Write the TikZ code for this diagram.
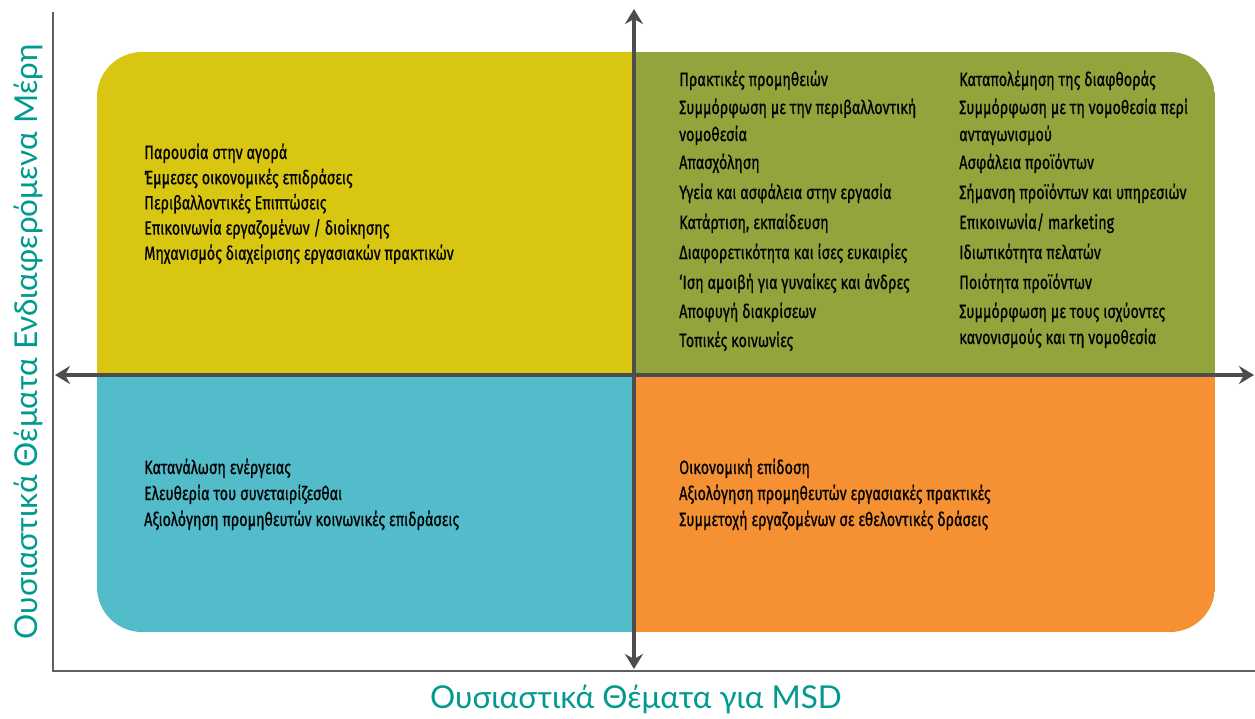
\documentclass[tikz,border=0pt]{standalone}
\usepackage{fontspec}
\usetikzlibrary{arrows.meta}
\newfontfamily\itemfont[FakeStretch=0.75,FakeBold=0.6]{Fira Sans}
\newfontfamily\labelfont{Lato}
\definecolor{qyellow}{RGB}{217,198,17}
\definecolor{qolive}{RGB}{147,164,61}
\definecolor{qteal}{RGB}{82,188,202}
\definecolor{qorange}{RGB}{245,145,50}
\definecolor{axisgray}{RGB}{77,77,79}
\definecolor{labelteal}{RGB}{0,154,143}
\tikzset{
 item/.style={anchor=base west,inner sep=0pt,font=\itemfont\fontsize{19.2}{21}\selectfont},
 axis/.style={line width=4pt,draw=axisgray,{Stealth[length=15pt,width=18pt,inset=5pt]}-{Stealth[length=15pt,width=18pt,inset=5pt]}},
 frame/.style={line width=2pt,draw=axisgray!90},
 axlabel/.style={text=labelteal,font=\labelfont\fontsize{31.5}{34}\selectfont}
}
\begin{document}
\begin{tikzpicture}[x=1pt,y=-1pt]
 \useasboundingbox (0,0) rectangle (1255,718);
 \begin{scope}
  \clip[rounded corners=45pt] (97,52) rectangle (1215,632);
  \fill[qyellow] (97,52) rectangle (634,375);
  \fill[qolive] (634,52) rectangle (1215,375);
  \fill[qteal] (97,375) rectangle (634,632);
  \fill[qorange] (634,375) rectangle (1215,632);
 \end{scope}
 \coordinate (ytop) at (53,12);
 \coordinate (orig) at (53,671);
 \coordinate (xend) at (1255,671);
 \coordinate (north) at (634,9);
 \coordinate (south) at (634,669);
 \coordinate (west) at (55,375);
 \coordinate (east) at (1254,375);
 \draw[frame] (ytop) -- (orig) -- (xend);
 \draw[axis] (north) -- (south);
 \draw[axis] (west) -- (east);
 \foreach \y/\t [count=\i] in {159/Παρουσία στην αγορά, 184.2/Έμμεσες οικονομικές επιδράσεις, 209.4/Περιβαλλοντικές Επιπτώσεις, 234.6/{Επικοινωνία εργαζομένων / διοίκησης}, 259.8/Μηχανισμός διαχείρισης εργασιακών πρακτικών}
  \node[item] (tl-\i) at (144,\y) {\t};
 \foreach \y/\t [count=\i] in {86/Πρακτικές προμηθειών, 114/Συμμόρφωση με την περιβαλλοντική, 141/νομοθεσία, 169/Απασχόληση, 199/Υγεία και ασφάλεια στην εργασία, 229/{Κατάρτιση, εκπαίδευση}, 259/Διαφορετικότητα και ίσες ευκαιρίες, 289/‘Ιση αμοιβή για γυναίκες και άνδρες, 318/Αποφυγή διακρίσεων, 347/Τοπικές κοινωνίες}
  \node[item] (tr-\i) at (679,\y) {\t};
 \foreach \y/\t [count=\i] in {86/Καταπολέμηση της διαφθοράς, 114/Συμμόρφωση με τη νομοθεσία περί, 141/ανταγωνισμού, 169/Ασφάλεια προϊόντων, 199/Σήμανση προϊόντων και υπηρεσιών, 229/{Επικοινωνία/ marketing}, 259/Ιδιωτικότητα πελατών, 289/Ποιότητα προϊόντων, 318/Συμμόρφωση με τους ισχύοντες, 344/κανονισμούς και τη νομοθεσία}
  \node[item] (tr2-\i) at (959,\y) {\t};
 \foreach \y/\t [count=\i] in {474/Κατανάλωση ενέργειας, 500/Ελευθερία του συνεταιρίζεσθαι, 526/Αξιολόγηση προμηθευτών κοινωνικές επιδράσεις}
  \node[item] (bl-\i) at (144,\y) {\t};
 \foreach \y/\t [count=\i] in {474/Οικονομική επίδοση, 500/Αξιολόγηση προμηθευτών εργασιακές πρακτικές, 526/Συμμετοχή εργαζομένων σε εθελοντικές δράσεις}
  \node[item] (br-\i) at (679,\y) {\t};
 \node[axlabel,rotate=90] (ylab) at (28,342) {Ουσιαστικά Θέματα Ενδιαφερόμενα Μέρη};
 \node[axlabel] (xlab) at (636,699) {Ουσιαστικά Θέματα για MSD};
\end{tikzpicture}
\end{document}
